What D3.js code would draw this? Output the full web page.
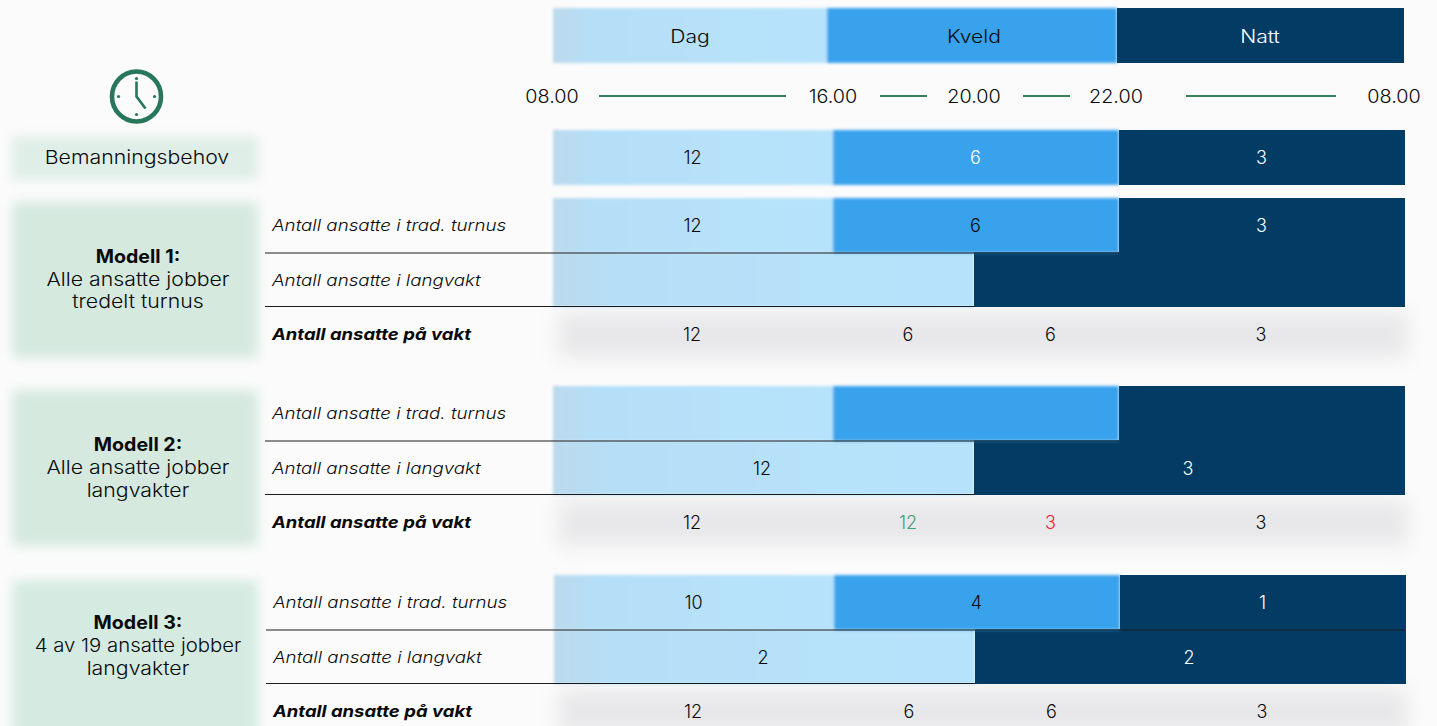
<!DOCTYPE html>
<html><head><meta charset="utf-8">
<script src="https://cdn.jsdelivr.net/npm/d3@7/dist/d3.min.js"></script>
<style>html,body{margin:0;padding:0;background:#fbfbfb;overflow:hidden}svg{display:block}text{font-family:Inter,"Open Sans",sans-serif}</style>
</head><body><svg id="c" width="1437" height="726"></svg>
<script>
const shiftNames = ["Dag","Kveld","Natt"];
const clockLabels = ["08.00","16.00","20.00","22.00","08.00"];
const clockHours = [0,8,12,14,24];
const shiftEdges = [[0,8],[8,14],[14,24]];
const longEdges = [[0,12],[12,24]];
const totalEdges = [[0,8],[8,12],[12,14],[14,24]];
const demand = [12,6,3];
const rowTrad = "Antall ansatte i trad. turnus";
const rowLong = "Antall ansatte i langvakt";
const rowTotal = "Antall ansatte på vakt";
const model1Title = ["Modell 1:","Alle ansatte jobber","tredelt turnus"];
const model1Trad = [12,6,3];
const model1Long = [null,null];
const model1Total = [12,6,6,3];
const model2Title = ["Modell 2:","Alle ansatte jobber","langvakter"];
const model2Trad = [null,null,null];
const model2Long = [12,3];
const model2Total = [12,12,3,3];
const model3Title = ["Modell 3:","4 av 19 ansatte jobber","langvakter"];
const model3Trad = [10,4,1];
const model3Long = [2,2];
const model3Total = [12,6,6,3];

const svg = d3.select("#c");
const defs = svg.append("defs");
[["b1",1.8],["b5",6],["b9",10]].forEach(([id,s])=>{
  defs.append("filter").attr("id",id).attr("x","-20%").attr("y","-50%").attr("width","140%").attr("height","200%")
    .append("feGaussianBlur").attr("stdDeviation",s);
});
const dg=defs.append("linearGradient").attr("id","dayG");
[[0,"#bcd9ec"],[0.14,"#b5dff7"],[1,"#b6e3fb"]].forEach(s=>dg.append("stop").attr("offset",s[0]).attr("stop-color",s[1]));
const dayC="url(#dayG)", eveC="#39a2ec", nightC="#023b64", ink="#0a0a0a";
const x = d3.scaleLinear().domain(clockHours).range([553,833,974,1119,1405]);
const xHead = d3.scaleLinear().domain([0,8,14,24]).range([553,827,1117,1404]);
const colour = [dayC,eveC,nightC];

function txt(g,s,px,py,o={}){
  const t=g.append("text").attr("x",px).attr("y",py).attr("text-anchor",o.anchor||"middle")
    .attr("dominant-baseline","central").attr("font-size",o.size||18)
    .attr("font-weight",o.weight||300).attr("font-style",o.style||"normal")
    .attr("fill",o.fill||ink).text(s);
  if(o.wide){
    const w=t.node().getComputedTextLength();
    t.attr("textLength",w*o.wide).attr("lengthAdjust","spacingAndGlyphs");
  }
  return t;
}
function bars(g,scale,edges,cols,top,h){
  const soft=g.append("g").attr("filter","url(#b1)");
  edges.forEach((e,i)=>{
    const tgt = cols[i]===nightC?g:soft;
    tgt.append("rect").attr("x",scale(e[0])).attr("y",top).attr("width",scale(e[1])-scale(e[0])).attr("height",h).attr("fill",cols[i]);
  });
}
function vals(g,scale,edges,values,y,cols,nudge){
  values.forEach((v,i)=>{
    if(v==null) return;
    txt(g,v,(scale(edges[i][0])+scale(edges[i][1]))/2+nudge,y,{fill:cols[i]});
  });
}
// background panels
const bg=svg.append("g");
[[12,136,246,44,"#dfeee7"],[12,202,246,156,"#d5e9df"],[12,390,246,156,"#d5e9df"],[12,580,246,170,"#d5ebe2"]].forEach(r=>{
  bg.append("rect").attr("x",r[0]).attr("y",r[1]).attr("width",r[2]).attr("height",r[3]).attr("fill",r[4]).attr("filter","url(#b5)");
});
[[558,312,850,46],[558,500,850,46],[558,689,850,46]].forEach(r=>{
  bg.append("rect").attr("x",r[0]).attr("y",r[1]).attr("width",r[2]).attr("height",r[3]).attr("fill","#e8e8ea").attr("filter","url(#b9)");
});
// header
const head=svg.append("g");
bars(head,xHead,shiftEdges,colour,8,55);
shiftNames.forEach((n,i)=>txt(head,n,[690,974,1260][i],36,{fill:i==2?"#fff":ink,wide:1.17}));
// clock times
const t=svg.append("g");
clockHours.forEach((h,i)=>txt(t,clockLabels[i],[552,833,974,1116,1394][i],96,{wide:1.1}));
[[599,786],[880,927],[1023,1070],[1186,1336]].forEach(s=>{
  t.append("line").attr("x1",s[0]).attr("x2",s[1]).attr("y1",96).attr("y2",96).attr("stroke","#38805c").attr("stroke-width",2.2);
});
// clock icon
const ic=svg.append("g").attr("transform","translate(136.5,96.5)");
ic.append("ellipse").attr("rx",24.5).attr("ry",25).attr("fill","#fbfbfb").attr("stroke","#27775a").attr("stroke-width",4.6);
[[0,-18],[18,0],[0,18],[-18,0]].forEach(p=>ic.append("circle").attr("cx",p[0]).attr("cy",p[1]).attr("r",1.6).attr("fill","#27775a"));
ic.append("polyline").attr("points","0,-15 0,0 9,12").attr("fill","none").attr("stroke","#27775a").attr("stroke-width",2.6);
// demand
const d=svg.append("g");
bars(d,x,shiftEdges,colour,130,55);
vals(d,x,shiftEdges,demand,157,[ink,"#fff","#fff"],-0.5);
txt(d,"Bemanningsbehov",137,157,{size:18.5,wide:1.15});
// models
const titleWide=[[1.06,1.15,1.15],[1.06,1.15,1.15],[1.06,1.1,1.15]];
const models=[
 {dx:0,y:198,title:model1Title,trad:model1Trad,long:model1Long,total:model1Total,ty:[256,279,301],end:1119,tc:[ink,ink,ink,ink]},
 {dx:0,y:386,title:model2Title,trad:model2Trad,long:model2Long,total:model2Total,ty:[444,467,490],end:1119,tc:[ink,"#3f9e78","#f01c28",ink]},
 {dx:1,y:575,title:model3Title,trad:model3Trad,long:model3Long,total:model3Total,ty:[622,645,668],end:1405,tc:[ink,ink,ink,ink]}
];
models.forEach((m,mi)=>{
  const g=svg.append("g").attr("transform",`translate(${m.dx},0)`);
  const y=m.y;
  bars(g,x,longEdges,[dayC,nightC],y+54,55);
  bars(g,x,shiftEdges,colour,y,55);
  g.append("line").attr("x1",265).attr("x2",m.end-m.dx).attr("y1",y+55).attr("y2",y+55).attr("stroke","#1c1c1c").attr("stroke-width",1.2);
  g.append("line").attr("x1",265).attr("x2",974).attr("y1",y+108.5).attr("y2",y+108.5).attr("stroke","#1c1c1c").attr("stroke-width",1.2);
  vals(g,x,shiftEdges,m.trad,y+27,[ink,ink,"#fff"],-0.5);
  vals(g,x,longEdges,m.long,y+82,[ink,"#fff"],-1.5);
  m.total.forEach((v,i)=>{
    const e=totalEdges[i];
    const nudge=[-1,4.5,4,-1][i];
    txt(g,v,(x(e[0])+x(e[1]))/2+nudge,y+136,{fill:m.tc[i]});
  });
  txt(g,rowTrad,272,y+27,{anchor:"start",style:"italic",size:16,wide:1.17});
  txt(g,rowLong,272,y+82,{anchor:"start",style:"italic",size:16,wide:1.17});
  txt(g,rowTotal,272,y+136,{anchor:"start",style:"italic",weight:700,size:16,wide:1.155});
  m.title.forEach((s,i)=>txt(svg,s,138,m.ty[i],{weight:i==0?700:300,size:18.5,wide:titleWide[mi][i]}));
});
</script></body></html>
